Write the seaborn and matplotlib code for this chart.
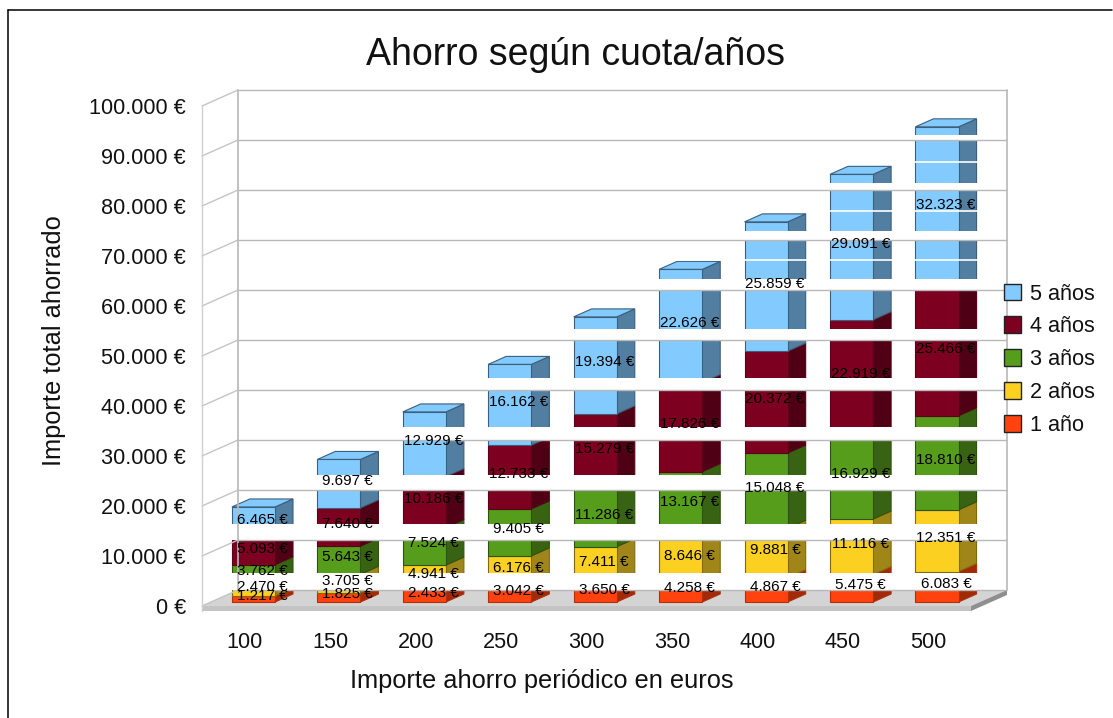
import matplotlib
matplotlib.use("Agg")
import matplotlib.pyplot as plt
from matplotlib.lines import Line2D
from matplotlib.patches import Polygon, Rectangle, Patch
import seaborn as sns
import numpy as np

# ---- data ----
categories = ["100", "150", "200", "250", "300", "350", "400", "450", "500"]
anio_1 = [1217, 1825, 2433, 3042, 3650, 4258, 4867, 5475, 6083]
anio_2 = [2470, 3705, 4941, 6176, 7411, 8646, 9881, 11116, 12351]
anio_3 = [3762, 5643, 7524, 9405, 11286, 13167, 15048, 16929, 18810]
anio_4 = [5093, 7640, 10186, 12733, 15279, 17826, 20372, 22919, 25466]
anio_5 = [6465, 9697, 12929, 16162, 19394, 22626, 25859, 29091, 32323]
series_names = ["1 año", "2 años", "3 años", "4 años", "5 años"]
series_values = [anio_1, anio_2, anio_3, anio_4, anio_5]
y_ticks = list(range(0, 100001, 10000))
y_tick_labels = ["0 €", "10.000 €", "20.000 €", "30.000 €", "40.000 €", "50.000 €",
                 "60.000 €", "70.000 €", "80.000 €", "90.000 €", "100.000 €"]

# ---- style ----
front_cols = ["#ff420e", "#fbd020", "#579d1c", "#7e0021", "#83caff"]
side_cols = ["#a12a09", "#a08518", "#376312", "#4f0014", "#527ea1"]
edge_cols = ["#b03008", "#806a10", "#2f5210", "#5a0018", "#3c5f7c"]
band_px = [17, 16, 15, 13, 12, 11, 11, 9, 7, 5, 0]
hairline_px = [162, 211, 260]

W, H = 1113, 718
L_PX, R_PX, Y0_PX, Y100_PX = 202, 971, 606, 106
sns.set_theme(style="white")
plt.rcParams["font.family"] = ["Liberation Sans", "DejaVu Sans"]
fig = plt.figure(figsize=(W / 100, H / 100), dpi=100, facecolor="white")
ax = fig.add_axes([L_PX / W, 1 - Y0_PX / H, (R_PX - L_PX) / W, (Y0_PX - Y100_PX) / H])
ax.set_facecolor("none")

PX_X = 1 / ((R_PX - L_PX) / 9)     # one pixel in category units
PX_Y = 100000 / (Y0_PX - Y100_PX)  # one pixel in euros
bar_shift_x, bar_shift_y = 8.7 * PX_X, 4 * PX_Y
bar_dx, bar_dy = 18 * PX_X, 8 * PX_Y
wall_dx, wall_dy = 36 * PX_X, 16 * PX_Y
XL, XR = -0.5, 8.5
thick = 5 * PX_Y

# floor
ax.add_patch(Polygon([(XL, 0), (XR, 0), (XR + wall_dx, wall_dy), (XL + wall_dx, wall_dy)],
                     fc="#d4d4d4", ec="none", zorder=0.5, clip_on=False))
ax.add_patch(Polygon([(XL, 0), (XR, 0), (XR, -thick), (XL, -thick)],
                     fc="#c4c4c4", ec="none", zorder=0.5, clip_on=False))
ax.add_patch(Polygon([(XR, 0), (XR + wall_dx, wall_dy), (XR + wall_dx, wall_dy - thick), (XR, -thick)],
                     fc="#8f8f8f", ec="none", zorder=0.5, clip_on=False))

# stacked bars
cum = np.zeros(len(categories))
labels = []
for vals, name, fc, sc, ec in zip(series_values, series_names, front_cols, side_cols, edge_cols):
    n = len(ax.patches)
    sns.barplot(x=categories, y=vals, bottom=cum + bar_shift_y, color=fc, saturation=1,
                width=0.505, edgecolor=ec, linewidth=0.8, ax=ax, zorder=1, err_kws={"linewidth": 0})
    for p, v in zip(ax.patches[n:], vals):
        p.set_x(p.get_x() + bar_shift_x)
        p.set_clip_on(False)
        p.set_zorder(1.2)
        x1 = p.get_x() + p.get_width()
        y0, y1 = p.get_y(), p.get_y() + p.get_height()
        ax.add_patch(Polygon([(x1, y0), (x1, y1), (x1 + bar_dx, y1 + bar_dy), (x1 + bar_dx, y0 + bar_dy)],
                             fc=sc, ec=ec, lw=0.8, zorder=1.1, clip_on=False))
        if name == series_names[-1]:
            x0 = p.get_x()
            ax.add_patch(Polygon([(x0, y1), (x1, y1), (x1 + bar_dx, y1 + bar_dy), (x0 + bar_dx, y1 + bar_dy)],
                                 fc=fc, ec=ec, lw=0.8, zorder=1.15, clip_on=False))
        labels.append((p.get_x() + (p.get_width() + bar_dx) / 2, (y0 + y1) / 2 + bar_dy / 2 - PX_Y, v))
    cum = cum + np.array(vals)

# white rendering bands and gridlines over the bars
for tick, t in zip(y_ticks, band_px):
    yb = tick + wall_dy
    if t:
        ax.add_patch(Rectangle((XL, yb), XR + wall_dx - XL, t * PX_Y, fc="white", ec="none",
                               zorder=3, clip_on=False))
for py in hairline_px:
    yv = (Y0_PX - py) * PX_Y
    ax.plot([XL + wall_dx, XR + wall_dx], [yv, yv], color="white", lw=1.2, zorder=3.1, clip_on=False)
grid_c = "#b8b8b8"
for tick in y_ticks:
    yb = tick + wall_dy
    ax.plot([XL + wall_dx, XR + wall_dx], [yb, yb], color=grid_c, lw=1.0, zorder=4, clip_on=False,
            solid_capstyle="butt")
    ax.plot([XL, XL + wall_dx], [tick, yb], color="#c4c4c4", lw=1.0, zorder=4, clip_on=False)
ax.plot([XL, XL], [-thick, 100000], color="#d0d0d0", lw=1.0, zorder=4, clip_on=False)
ax.plot([XL + wall_dx] * 2, [wall_dy, 100000 + wall_dy], color=grid_c, lw=1.2, zorder=4, clip_on=False)
ax.plot([XR + wall_dx] * 2, [wall_dy, 100000 + wall_dy], color=grid_c, lw=1.2, zorder=4, clip_on=False)

# value labels
for x, y, v in labels:
    txt = f"{v:,} €".replace(",", ".")
    ax.text(x, y, txt, ha="center", va="center", fontsize=11.0, color="black", zorder=6, clip_on=False)

# axes
ax.set_xlim(XL, XR)
ax.set_ylim(0, 100000)
ax.set_yticks(y_ticks)
ax.set_yticklabels(y_tick_labels, fontsize=15.6, color="#111111")
ax.set_xticks(range(len(categories)))
ax.set_xticklabels(categories, fontsize=15.6, color="#111111")
ax.tick_params(axis="y", length=0, pad=11.5)
ax.tick_params(axis="x", length=0, pad=18.7)
for s in ax.spines.values():
    s.set_visible(False)


def ax_x(px):
    return (px - L_PX) / (R_PX - L_PX)


def ax_y(py):
    return (Y0_PX - py) / (Y0_PX - Y100_PX)


ax.set_xlabel("Importe ahorro periódico en euros", fontsize=18.3, color="#111111")
ax.xaxis.set_label_coords(ax_x(542), ax_y(681))
ax.xaxis.label.set_va("center")
ax.set_ylabel("Importe total ahorrado", fontsize=18.3, color="#111111")
ax.yaxis.set_label_coords(ax_x(54), ax_y(341))
ax.yaxis.label.set_va("center")
ax.text(ax_x(575), ax_y(55), "Ahorro según cuota/años", transform=ax.transAxes, ha="center", va="center",
        fontsize=27, color="#111111", clip_on=False)

# legend
handles = [Patch(fc=f, ec="#222222", lw=1.0) for f in front_cols][::-1]
leg = ax.legend(handles, series_names[::-1], frameon=False, fontsize=15.6, loc="upper left",
                bbox_to_anchor=(1003.5 / W, 1 - 283.5 / H), bbox_transform=fig.transFigure,
                borderpad=0, borderaxespad=0, handlelength=0.83, handleheight=0.83,
                handletextpad=0.38, labelspacing=0.55)
leg.set_zorder(7)
for t in leg.get_texts():
    t.set_color("#111111")

# outer frame
fig.add_artist(Line2D([8 / W, 8 / W], [0, 1 - 10 / H], color="black", lw=1.1, transform=fig.transFigure))
fig.add_artist(Line2D([8 / W, 1112 / W], [1 - 10 / H, 1 - 10 / H], color="black", lw=1.1, transform=fig.transFigure))

fig.savefig("out.png", dpi=100, facecolor="white")
